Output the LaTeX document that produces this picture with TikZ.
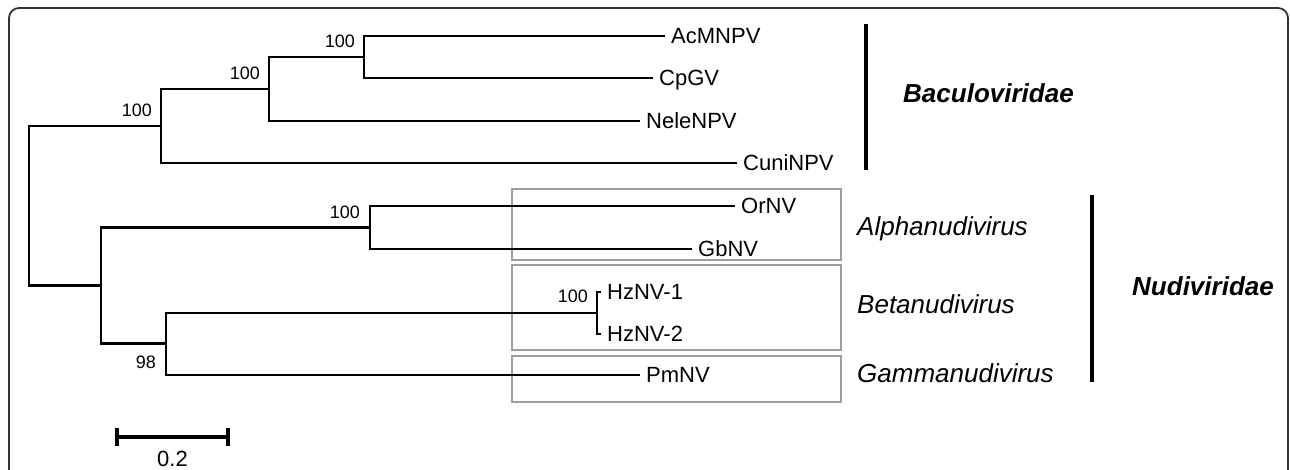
\documentclass[tikz,border=0pt]{standalone}
\usepackage{fontspec}
\setmainfont{Liberation Sans}
\usetikzlibrary{positioning}
\begin{document}
\begin{tikzpicture}[x=1pt,y=-1pt,
  branch/.style={line width=2.3pt},
  leaf/.style={anchor=west,inner sep=6pt,text height=15.8pt,text depth=0pt,font=\fontsize{22}{24}\selectfont},
  boot/.style={inner sep=0pt,font=\fontsize{18}{20}\selectfont},
  genus/.style={anchor=base west,inner sep=0pt,font=\fontsize{26}{28}\selectfont\itshape},
  family/.style={anchor=base west,inner sep=0pt,font=\fontsize{26}{28}\selectfont\bfseries\itshape},
  genbox/.style={draw=black!38,line width=2.2pt},
  famline/.style={line width=3.2pt},
  scalebar/.style={line width=3.5pt}]
\useasboundingbox (0,0) rectangle (1290,469);
\clip (0,0) rectangle (1290,469);
\fill[white] (0,0) rectangle (1290,469);
\draw[black!80,line width=1.8pt,rounded corners=10pt] (9,480) -- (9,8) -- (1288,8) -- (1288,480);

\draw[genbox] (512,189) rectangle (841,260);
\draw[genbox] (512,265) rectangle (841,350);
\draw[genbox] (512,356) rectangle (841,402);

\coordinate (root) at (29,205.5);
\coordinate (bac) at (161,126);
\coordinate (internal1) at (269,89);
\coordinate (internal2) at (364,57);
\coordinate (nudi) at (101,285.5);
\coordinate (alpha) at (370,227.5);
\coordinate (internal3) at (166,343.5);
\coordinate (beta) at (597,313);

\node (acmnpv) [leaf] at (665,36) {AcMNPV};
\node (cpgv) [leaf] at (653,78) {CpGV};
\node (nelenpv) [leaf] at (640,121) {NeleNPV};
\node (cuninpv) [leaf] at (737,163) {CuniNPV};
\node (ornv) [leaf] at (735,206) {OrNV};
\node (gbnv) [leaf] at (692,249) {GbNV};
\node (hznv1) [leaf] at (601,292) {HzNV-1};
\node (hznv2) [leaf] at (601,334) {HzNV-2};
\node (pmnv) [leaf] at (640,375) {PmNV};

\node (bbac) [boot, above left=9pt and 9pt of bac] {100};
\node (b1) [boot, above left=9pt and 9pt of internal1] {100};
\node (b2) [boot, above left=9pt and 9pt of internal2] {100};
\node (balpha) [boot, above left=9pt and 10pt of alpha] {100};
\node (bbeta) [boot, above left=10pt and 9pt of beta] {100};
\node (b3) [boot, below left=12pt and 10pt of internal3] {98};

\draw[branch] (root) |- (bac);
\draw[branch] (root) |- (nudi);
\draw[branch] (bac) |- (internal1);
\draw[branch] (bac) |- (cuninpv);
\draw[branch] (internal1) |- (internal2);
\draw[branch] (internal1) |- (nelenpv);
\draw[branch] (internal2) |- (acmnpv);
\draw[branch] (internal2) |- (cpgv);
\draw[branch] (nudi) |- (alpha);
\draw[branch] (nudi) |- (internal3);
\draw[branch] (alpha) |- (ornv);
\draw[branch] (alpha) |- (gbnv);
\draw[branch] (internal3) |- (beta);
\draw[branch] (internal3) |- (pmnv);
\draw[branch] (beta) |- (hznv1);
\draw[branch] (beta) |- (hznv2);

\node (alphalab) [genus] at (857,235) {Alphanudivirus};
\node (betalab) [genus] at (857,313) {Betanudivirus};
\node (gammalab) [genus] at (857,382) {Gammanudivirus};

\coordinate (bactop) at (866,24);
\coordinate (bacbot) at (866,170);
\coordinate (nuditop) at (1092,195);
\coordinate (nudibot) at (1092,382);
\draw[famline] (bactop) -- (bacbot);
\draw[famline] (nuditop) -- (nudibot);
\node (baclab) [family] at (903,102) {Baculoviridae};
\node (nudilab) [family] at (1132,295) {Nudiviridae};

\coordinate (sbl) at (117,437);
\coordinate (sbr) at (228,437);
\draw[scalebar] (sbl) -- (sbr);
\draw[scalebar] (117,428) -- (117,446) (228,428) -- (228,446);
\node (sblab) [font=\fontsize{22}{24}\selectfont] at (172.5,459) {0.2};
\end{tikzpicture}
\end{document}
